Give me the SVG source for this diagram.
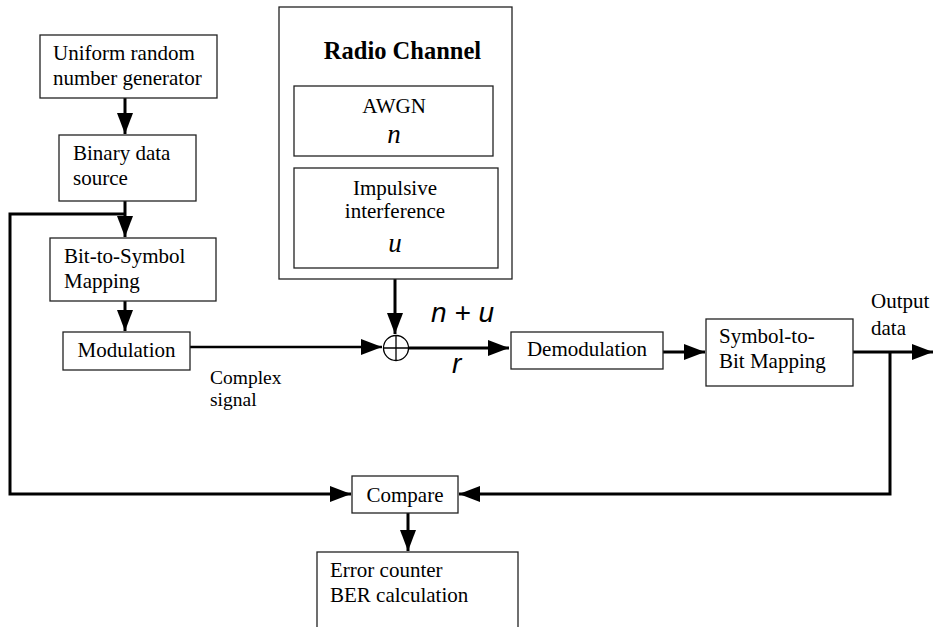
<svg xmlns="http://www.w3.org/2000/svg" width="933" height="627" viewBox="0 0 933 627">
<defs>
<style>
.box{fill:#fff;stroke:#222;stroke-width:1.3}
.t{font-family:"Liberation Serif","Times New Roman",serif;font-size:21px;fill:#000}
.tc{font-family:"Liberation Serif","Times New Roman",serif;font-size:21px;fill:#000;text-anchor:middle}
.ti{font-family:"Liberation Serif","Times New Roman",serif;font-style:italic;font-size:27px;fill:#000;text-anchor:middle}
.si{font-family:"Liberation Sans",Arial,sans-serif;font-style:italic;font-size:28px;fill:#000}
.c{fill:none;stroke:#000;stroke-width:3}
.c2{fill:none;stroke:#000;stroke-width:2.5}
</style>
<marker id="ah" markerUnits="userSpaceOnUse" markerWidth="22" markerHeight="16" refX="21" refY="8" orient="auto">
<path d="M0,0 L21,8 L0,16 Z" fill="#000"/>
</marker>
</defs>
<rect width="933" height="627" fill="#fff"/>

<g id="connectors">
<path class="c" d="M125,98 V134" marker-end="url(#ah)"/>
<path class="c" d="M125,201 V237" marker-end="url(#ah)"/>
<path class="c" d="M125,214 H10 V494 H351" marker-end="url(#ah)"/>
<path class="c" d="M125,301 V331" marker-end="url(#ah)"/>
<path class="c2" d="M190,347 H382" marker-end="url(#ah)"/>
<path class="c" d="M395,279 V334" marker-end="url(#ah)"/>
<path class="c" d="M409,348 H509" marker-end="url(#ah)"/>
<path class="c" d="M663,352 H705" marker-end="url(#ah)"/>
<path class="c" d="M853,352 H933" marker-end="url(#ah)"/>
<path class="c" d="M890,352 V494 H459" marker-end="url(#ah)"/>
<path class="c" d="M408,513 V551" marker-end="url(#ah)"/>
</g>

<g id="uniform">
<rect class="box" x="40" y="35" width="177" height="63"/>
<text class="t" x="53" y="60">Uniform random</text>
<text class="t" x="53" y="85">number generator</text>
</g>

<g id="binary">
<rect class="box" x="59" y="135" width="137" height="66"/>
<text class="t" x="73" y="160">Binary data</text>
<text class="t" x="73" y="185">source</text>
</g>

<g id="bit2sym">
<rect class="box" x="50" y="238" width="166" height="63"/>
<text class="t" x="64" y="263">Bit-to-Symbol</text>
<text class="t" x="64" y="288">Mapping</text>
</g>

<g id="modulation">
<rect class="box" x="63" y="332" width="127" height="38"/>
<text class="tc" x="126.5" y="357">Modulation</text>
</g>

<g id="complex-label">
<text class="t" x="210" y="384" font-size="19.5px" style="font-size:19.5px">Complex</text>
<text class="t" x="210" y="406" font-size="19.5px" style="font-size:19.5px">signal</text>
</g>

<g id="radio-channel">
<rect class="box" x="279" y="7" width="233" height="272"/>
<text x="402.5" y="59" text-anchor="middle" font-family="'Liberation Serif','Times New Roman',serif" font-weight="bold" font-size="24.5px">Radio Channel</text>
</g>

<g id="awgn">
<rect class="box" x="294" y="86" width="199" height="70"/>
<text class="tc" x="394" y="113">AWGN</text>
<text class="ti" x="394" y="143">n</text>
</g>

<g id="impulsive">
<rect class="box" x="294" y="168" width="204" height="100"/>
<text class="tc" x="395" y="195">Impulsive</text>
<text class="tc" x="395" y="218">interference</text>
<text class="ti" x="395" y="252">u</text>
</g>

<g id="sum">
<circle cx="396" cy="348" r="12.5" fill="#fff" stroke="#000" stroke-width="1.3"/>
<path d="M383.5,348 H408.5 M396,335.5 V360.5" stroke="#000" stroke-width="1.3"/>
</g>

<g id="labels">
<text class="si" x="431" y="322">n + u</text>
<text class="si" x="452" y="373">r</text>
</g>

<g id="demodulation">
<rect class="box" x="511" y="332" width="152" height="37"/>
<text class="tc" x="587" y="356">Demodulation</text>
</g>

<g id="sym2bit">
<rect class="box" x="706" y="319" width="147" height="67"/>
<text class="t" x="719" y="343">Symbol-to-</text>
<text class="t" x="719" y="368">Bit Mapping</text>
</g>

<g id="output-label">
<text class="t" x="871" y="308">Output</text>
<text class="t" x="871" y="335">data</text>
</g>

<g id="compare">
<rect class="box" x="352" y="476" width="106" height="37"/>
<text class="tc" x="405" y="502">Compare</text>
</g>

<g id="error">
<rect class="box" x="317" y="552" width="201" height="90"/>
<text class="t" x="330" y="577">Error counter</text>
<text class="t" x="330" y="602">BER calculation</text>
</g>
</svg>
